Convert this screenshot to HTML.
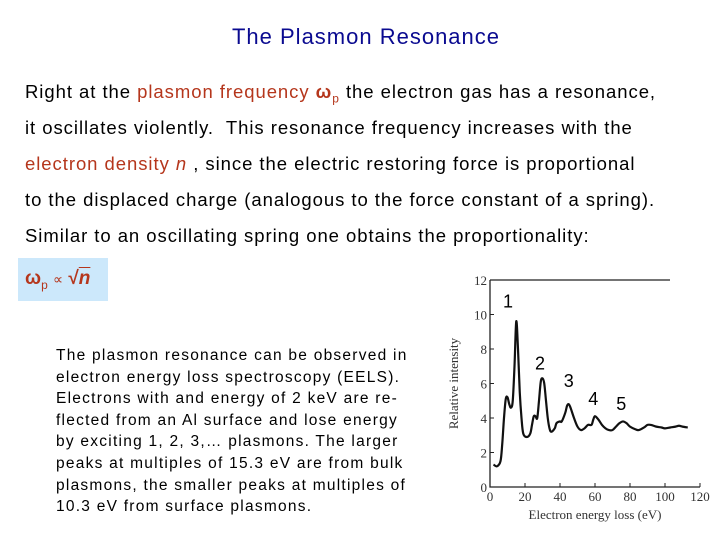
<!DOCTYPE html>
<html><head><meta charset="utf-8"><style>
body{margin:0;width:720px;height:540px;background:#fff;position:relative;overflow:hidden;font-family:"Liberation Sans",sans-serif}
.t{position:absolute;white-space:nowrap}
.body{left:25px;font-size:18.5px;color:#000;letter-spacing:0.95px}
.red{color:#b5361c}
.small{left:56px;font-size:15.5px;color:#000;letter-spacing:1.25px}
</style></head><body>
<div class="t" style="left:0;width:732px;text-align:center;top:24px;font-size:22px;color:#0a0a90;letter-spacing:1px">The Plasmon Resonance</div>
<div class="t body" style="top:81px">Right at the <span class="red">plasmon frequency</span> <span class="red" style="font-weight:bold">ω<sub style="font-size:12px;font-weight:normal">p</sub></span> the electron gas has a resonance,</div>
<div class="t body" style="top:117px">it oscillates violently.&nbsp; This resonance frequency increases with the</div>
<div class="t body" style="top:153px"><span class="red">electron density <i>n</i></span> , since the electric restoring force is proportional</div>
<div class="t body" style="top:189px">to the displaced charge (analogous to the force constant of a spring).</div>
<div class="t body" style="top:225px">Similar to an oscillating spring one obtains the proportionality:</div>
<div style="position:absolute;left:18px;top:258px;width:90px;height:43px;background:#cce8fb"></div>
<div class="t red" style="left:25px;top:268px;font-size:19px;font-weight:bold">ω<sub style="font-size:12px;font-weight:normal">p</sub> <span style="font-weight:normal;font-size:14px">∝</span> √<span style="text-decoration:overline"><i>n</i></span></div>
<div class="t small" style="top:347px">The plasmon resonance can be observed in</div>
<div class="t small" style="top:369px">electron energy loss spectroscopy (EELS).</div>
<div class="t small" style="top:390px">Electrons with and energy of 2 keV are re-</div>
<div class="t small" style="top:412px">flected from an Al surface and lose energy</div>
<div class="t small" style="top:433px">by exciting 1, 2, 3,… plasmons. The larger</div>
<div class="t small" style="top:455px">peaks at multiples of 15.3 eV are from bulk</div>
<div class="t small" style="top:477px">plasmons, the smaller peaks at multiples of</div>
<div class="t small" style="top:498px">10.3 eV from surface plasmons.</div>
<svg id="ch" width="720" height="540" style="position:absolute;left:0;top:0" font-family="Liberation Serif, serif"></svg>
<script>
const energies=[2,4,6,7,8,9,10,11,12,13,14,15,16,17,18,19,21,23,24,25,26,27,28,29,30,31,32,33,34,35,37,38,40,41,43,44,45,46,48,50,52,54,56,58,59,60,62,64,66,68,70,72,74,76,78,80,83,85,88,90,92,95,98,100,103,106,108,110,113];
const intensity=[1.3,1.2,1.5,2.5,4,5.1,5.2,4.8,4.6,5,7,9.6,8,5.5,4,3.1,2.9,3.1,3.6,4.1,4.1,4.0,5,6.1,6.3,6,5,4,3.4,3.2,3.4,3.7,3.8,3.8,4.3,4.7,4.8,4.6,4.0,3.5,3.3,3.4,3.6,3.6,3.9,4.1,3.9,3.6,3.4,3.3,3.3,3.5,3.7,3.8,3.7,3.5,3.35,3.3,3.45,3.6,3.6,3.5,3.45,3.4,3.45,3.5,3.55,3.5,3.45];
const xTicks=[0,20,40,60,80,100,120];
const yTicks=[0,2,4,6,8,10,12];
const peakLabels=["1","2","3","4","5"];
const peakX=[10.3,28.6,45,59,75];
const peakY=[10.4,6.8,5.8,4.75,4.45];
const svg=document.getElementById('ch');const NS='http://www.w3.org/2000/svg';
const X0=490,X1=700,Y0=487,Y1=280;
const sx=v=>X0+(v-0)/(120-0)*(X1-X0), sy=v=>Y0-(v/12)*(Y0-Y1);
function mk(t,a,txt){const e=document.createElementNS(NS,t);for(const k in a)e.setAttribute(k,a[k]);if(txt!==undefined)e.textContent=txt;svg.appendChild(e);return e;}
let ax=mk('path',{d:`M${X0},${Y1}V${Y0}H${X1}M${X0},${Y1}H${X1-30}`,stroke:'#222','stroke-width':1.3,fill:'none'});


xTicks.forEach(v=>{const l=mk('line',{x1:sx(v),x2:sx(v),y1:Y0,y2:Y0-4,stroke:'#222'});


const t=mk('text',{x:sx(v),y:Y0+14,'text-anchor':'middle','font-size':13,fill:'#333'},v);

});
yTicks.forEach(v=>{const l=mk('line',{x1:X0,x2:X0+4,y1:sy(v),y2:sy(v),stroke:'#222'});


const t=mk('text',{x:X0-3,y:sy(v)+5,'text-anchor':'end','font-size':13,fill:'#333'},v);

});
const xt=mk('text',{x:595,y:519,'text-anchor':'middle','font-size':13,fill:'#333'},'Electron energy loss (eV)');


const yt=mk('text',{x:0,y:0,'text-anchor':'middle','font-size':13,fill:'#333',transform:`translate(458,${(Y0+Y1)/2}) rotate(-90)`},'Relative intensity');


const P=energies.map((e,i)=>[sx(e),sy(intensity[i])]);
let d=`M${P[0][0]},${P[0][1]}`;
for(let i=0;i<P.length-1;i++){const p0=P[i-1]||P[i],p1=P[i],p2=P[i+1],p3=P[i+2]||p2;
d+=`C${p1[0]+(p2[0]-p0[0])/6},${p1[1]+(p2[1]-p0[1])/6} ${p2[0]-(p3[0]-p1[0])/6},${p2[1]-(p3[1]-p1[1])/6} ${p2[0]},${p2[1]}`;}
const c=mk('path',{d,stroke:'#111','stroke-width':2.2,fill:'none','stroke-linejoin':'round'});


peakLabels.forEach((s,i)=>{const t=mk('text',{x:sx(peakX[i]),y:sy(peakY[i]),'text-anchor':'middle','font-size':18,'font-family':'Liberation Sans, sans-serif',fill:'#000'},s);

});
</script>
</body></html>
